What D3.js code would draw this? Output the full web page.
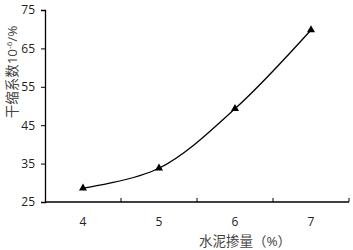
<!DOCTYPE html>
<html><head><meta charset="utf-8">
<script src="https://cdn.jsdelivr.net/npm/d3@7"></script>
<style>body{margin:0;background:#fff}svg{display:block}text{font-family:"Open Sans","Noto Sans CJK SC",sans-serif;fill:#222}</style>
</head><body>
<script>
const categories = ["4","5","6","7"];
const values = [28.6, 33.8, 49.3, 69.8];
const yTicks = [25,35,45,55,65,75];
const xTitle = "水泥掺量（%）";
const yTitleMain = "干缩系数10";
const yTitleSup = "-6";
const yTitleEnd = "/%";

const W=353,H=250;
const svg=d3.select("body").append("svg").attr("width",W).attr("height",H);
const m={l:45,r:4,t:10,b:48};
const x=d3.scaleBand().domain(categories).range([m.l,W-m.r]);
const y=d3.scaleLinear().domain([25,75]).range([H-m.b,m.t]);

// y axis
const ya=svg.append("g").attr("transform",`translate(${m.l},0)`)
 .call(d3.axisLeft(y).tickValues(yTicks).tickSize(4).tickPadding(6));
ya.select(".domain").attr("stroke","#000").attr("stroke-width",1.3);
ya.selectAll(".tick line").attr("stroke","#000");
ya.selectAll("text").style("font-size","12px").attr("fill","#222");

// x axis
const xa=svg.append("g").attr("transform",`translate(0,${H-m.b})`);
xa.append("line").attr("x1",m.l).attr("x2",W-m.r).attr("stroke","#000").attr("stroke-width",1.3);
const bounds=categories.map(c=>x(c)+x.bandwidth());
xa.selectAll("line.tk").data(bounds).enter().append("line").attr("class","tk")
 .attr("x1",d=>d).attr("x2",d=>d).attr("y1",0).attr("y2",-4).attr("stroke","#000");
xa.selectAll("text").data(categories).enter().append("text")
 .attr("x",d=>x(d)+x.bandwidth()/2).attr("y",24).attr("text-anchor","middle")
 .style("font-size","12px").text(d=>d);

// titles
svg.append("text").attr("x",245).attr("y",246).attr("text-anchor","middle").style("font-size","13.5px").style("fill","#444").text(xTitle);
const yt=svg.append("text").attr("transform",`translate(17,72) rotate(-90)`).attr("text-anchor","middle").style("font-size","13.5px").style("fill","#444");
yt.append("tspan").text(yTitleMain);
yt.append("tspan").attr("dy",-5).style("font-size","8px").text(yTitleSup);
yt.append("tspan").attr("dy",5).text(yTitleEnd);

// line
const pts=categories.map((c,i)=>[x(c)+x.bandwidth()/2,y(values[i])]);
svg.append("path").attr("d",d3.line().curve(d3.curveCatmullRom.alpha(0.5))(pts))
 .attr("fill","none").attr("stroke","#000").attr("stroke-width",1.3);
svg.selectAll("path.m").data(pts).enter().append("path").attr("class","m")
 .attr("d",d3.symbol(d3.symbolTriangle,28)).attr("transform",d=>`translate(${d[0]},${d[1]})`).attr("fill","#000");
</script>
</body></html>
